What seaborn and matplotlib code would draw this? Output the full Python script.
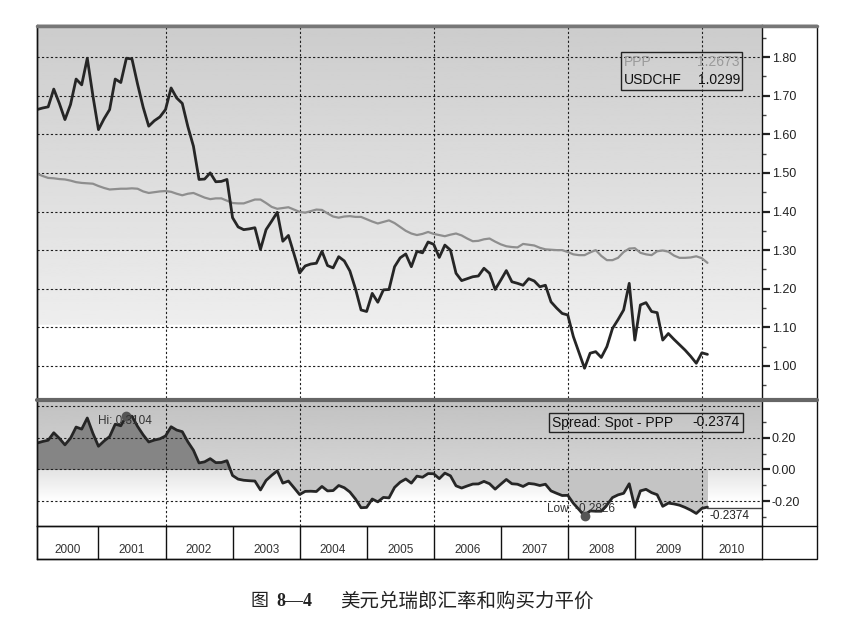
import numpy as np
import pandas as pd
import matplotlib
matplotlib.use("Agg")
import matplotlib.pyplot as plt
from matplotlib.patches import Rectangle
from matplotlib.lines import Line2D
import seaborn as sns

# ==== Data: monthly, Feb 2000 .. Feb 2010 ====
usdchf = [
    1.664, 1.668, 1.671, 1.717, 1.680, 1.638, 1.677, 1.743, 1.728, 1.797,
    1.700, 1.612, 1.640, 1.664, 1.743, 1.734, 1.797, 1.795, 1.730, 1.670,
    1.621, 1.635, 1.645, 1.664, 1.720, 1.694, 1.680, 1.620, 1.569, 1.483,
    1.484, 1.500, 1.477, 1.478, 1.483, 1.384, 1.360, 1.353, 1.355, 1.358,
    1.302, 1.353, 1.375, 1.398, 1.323, 1.338, 1.290, 1.241, 1.259, 1.264,
    1.266, 1.297, 1.260, 1.254, 1.283, 1.272, 1.246, 1.200, 1.145, 1.141,
    1.188, 1.165, 1.197, 1.198, 1.257, 1.280, 1.290, 1.257, 1.297, 1.293,
    1.321, 1.315, 1.281, 1.313, 1.300, 1.240, 1.221, 1.226, 1.231, 1.233,
    1.253, 1.240, 1.198, 1.222, 1.247, 1.218, 1.214, 1.209, 1.226, 1.220,
    1.205, 1.209, 1.166, 1.150, 1.136, 1.132, 1.076, 1.035, 0.994, 1.033,
    1.037, 1.022, 1.050, 1.097, 1.120, 1.145, 1.214, 1.067, 1.158, 1.164,
    1.141, 1.138, 1.067, 1.084, 1.069, 1.055, 1.041, 1.025, 1.007, 1.034,
    1.030,
]
ppp = [
    1.498, 1.492, 1.487, 1.486, 1.484, 1.483, 1.480, 1.476, 1.474, 1.473,
    1.472, 1.466, 1.461, 1.457, 1.458, 1.459, 1.459, 1.460, 1.459, 1.452,
    1.448, 1.450, 1.452, 1.453, 1.451, 1.446, 1.442, 1.446, 1.448, 1.442,
    1.436, 1.432, 1.434, 1.434, 1.428, 1.422, 1.421, 1.421, 1.426, 1.431,
    1.431, 1.422, 1.412, 1.407, 1.409, 1.411, 1.405, 1.399, 1.397, 1.401,
    1.405, 1.404, 1.395, 1.387, 1.384, 1.387, 1.388, 1.386, 1.386, 1.380,
    1.374, 1.369, 1.373, 1.377, 1.370, 1.360, 1.350, 1.343, 1.339, 1.342,
    1.347, 1.342, 1.339, 1.336, 1.340, 1.343, 1.338, 1.330, 1.323, 1.324,
    1.328, 1.330, 1.322, 1.315, 1.310, 1.308, 1.307, 1.316, 1.314, 1.312,
    1.306, 1.302, 1.301, 1.300, 1.300, 1.295, 1.289, 1.287, 1.287, 1.294,
    1.300, 1.285, 1.274, 1.274, 1.280, 1.295, 1.304, 1.305, 1.293, 1.289,
    1.287, 1.297, 1.299, 1.296, 1.286, 1.280, 1.280, 1.281, 1.284, 1.279,
    1.267,
]
years = [2000, 2001, 2002, 2003, 2004, 2005, 2006, 2007, 2008, 2009, 2010]
top_ticks = [1.00, 1.10, 1.20, 1.30, 1.40, 1.50, 1.60, 1.70, 1.80]
spread_ticks = [-0.20, 0.00, 0.20]
spread_grid = [-0.20, 0.00, 0.20, 0.40]
legend_top = [("PPP", "1.2673"), ("USDCHF", "1.0299")]
legend_spread = ("Spread: Spot - PPP", "-0.2374")
hi_label = "Hi: 0.3104"
low_label = "Low: -0.2826"
last_label = "-0.2374"
caption_parts = ["图", "8—4", "美元兑瑞郎汇率和购买力平价"]

months = np.arange(len(usdchf))
df = pd.DataFrame({"t": 2000 + (months + 1) / 12, "USDCHF": usdchf, "PPP": ppp})
df["spread"] = df["USDCHF"] - df["PPP"]

# ==== Layout helpers (pixel coords of the 868x620 picture) ====
W, H = 868, 620
def box(x0, y0, x1, y1):
    return [x0 / W, 1 - y1 / H, (x1 - x0) / W, (y1 - y0) / H]
def fx(px):
    return px / W
def fy(py):
    return 1 - py / H

sns.set_style("white")
plt.rcParams["font.family"] = ["Liberation Sans", "DejaVu Sans"]

fig = plt.figure(figsize=(8.68, 6.2), dpi=100)
ax1 = fig.add_axes(box(37, 25, 762, 398))
ax2 = fig.add_axes(box(37, 401, 762, 526))
ax3 = fig.add_axes(box(37, 526, 762, 559))

xmin, xmax = 2000 + 1 / 12, 2010.897
grid_kw = dict(color="#1e1e1e", lw=0.8, ls=(0, (2, 2)), zorder=2)

# ==== Top panel: USDCHF vs PPP ====
y1lo, y1hi = 0.917, 1.883
gy = np.linspace(y1hi, y1lo, 300)
shade = 0.80 + (y1hi - gy) / (y1hi - 1.12) * 0.13
shade[gy < 1.105] = 1.0
ax1.imshow(np.clip(shade, 0, 1)[:, None], extent=[xmin, xmax, y1lo, y1hi],
           aspect="auto", cmap="gray", vmin=0, vmax=1, zorder=0)
for v in top_ticks:
    ax1.axhline(v, **grid_kw)
for yr in years[2::2]:
    ax1.axvline(yr, **grid_kw)
sns.lineplot(data=df, x="t", y="PPP", ax=ax1, color="#8e8e8e", lw=1.6, zorder=3)
sns.lineplot(data=df, x="t", y="USDCHF", ax=ax1, color="#262626", lw=2.0, zorder=4)
ax1.set_xlim(xmin, xmax)
ax1.set_ylim(y1lo, y1hi)
ax1.set_xticks([])
ax1.set_xlabel("")
ax1.set_ylabel("")
ax1.yaxis.tick_right()
ax1.set_yticks(top_ticks)
ax1.set_yticklabels([f"{v:.2f}" for v in top_ticks])
ax1.set_yticks(np.arange(0.95, 1.9, 0.10), minor=True)

# ==== Bottom panel: spread ====
y2lo, y2hi = -0.356, 0.431
gy2 = np.linspace(y2hi, y2lo, 300)
shade2 = np.where(gy2 >= 0, 0.76 + (y2hi - gy2) / y2hi * 0.07,
                  0.89 + (-gy2) / 0.2 * 0.11)
ax2.imshow(np.clip(shade2, 0, 1)[:, None], extent=[xmin, xmax, y2lo, y2hi],
           aspect="auto", cmap="gray", vmin=0, vmax=1, zorder=0)
for v in spread_grid:
    ax2.axhline(v, **grid_kw)
for yr in years[2::2]:
    ax2.axvline(yr, **grid_kw)
ax2.fill_between(df["t"], 0, df["spread"], where=df["spread"] >= 0,
                 interpolate=True, color="#858585", lw=0, zorder=1)
ax2.fill_between(df["t"], 0, df["spread"], where=df["spread"] <= 0,
                 interpolate=True, color="#c4c4c4", lw=0, zorder=1)
sns.lineplot(data=df, x="t", y="spread", ax=ax2, color="#262626", lw=2.0, zorder=4)
hi = df.loc[df["spread"].idxmax()]
lo = df.loc[df["spread"].idxmin()]
ax2.scatter([hi["t"], lo["t"]], [hi["spread"], lo["spread"]], s=36,
            color="#555555", zorder=5)
ax2.text(2001.0, 0.305, hi_label, fontsize=8.5, color="#333333",
         va="center", ha="left", zorder=6)
ax2.text(2007.69, -0.25, low_label, fontsize=8.5, color="#333333",
         va="center", ha="left", zorder=6)
ax2.text(2010.12, -0.292, last_label, fontsize=8.5, color="#222222",
         va="center", ha="left", zorder=6)
ax2.plot([2010.07, xmax], [-0.245, -0.245], color="#444444", lw=1, zorder=6)
ax2.set_xlim(xmin, xmax)
ax2.set_ylim(y2lo, y2hi)
ax2.set_xticks([])
ax2.set_xlabel("")
ax2.set_ylabel("")
ax2.yaxis.tick_right()
ax2.set_yticks(spread_ticks)
ax2.set_yticklabels([f"{v:.2f}" for v in spread_ticks])
ax2.set_yticks([-0.3, -0.1, 0.1, 0.3], minor=True)

for ax in (ax1, ax2):
    ax.tick_params(axis="y", which="major", direction="out", length=6,
                   width=1.6, pad=1, labelsize=9, colors="#222222")
    ax.tick_params(axis="y", which="minor", direction="out", length=3,
                   width=1.0, colors="#444444")
    for s in ax.spines.values():
        s.set_color("#111111")
        s.set_linewidth(1.0)
    ax.spines["top"].set_visible(False)
    ax.spines["bottom"].set_visible(False)

# ==== Year strip ====
ax3.set_xlim(xmin, xmax)
ax3.set_ylim(0, 1)
for yr in years[1:]:
    ax3.axvline(yr, color="#111111", lw=1.0)
for yr in years:
    lo_x = max(yr, xmin)
    hi_x = min(yr + 1, xmax)
    ax3.text((lo_x + hi_x) / 2, 0.27, str(yr), ha="center", va="center",
             fontsize=8.5, color="#333333")
ax3.set_xticks([])
ax3.set_yticks([])
for s in ax3.spines.values():
    s.set_color("#111111")
    s.set_linewidth(1.0)

# ==== Frames and separators ====
fig.add_artist(Rectangle((fx(37), fy(559)), fx(817) - fx(37), fy(25) - fy(559),
                         transform=fig.transFigure, fill=False, ec="#111111", lw=1.0))
fig.add_artist(Line2D([fx(37), fx(817)], [fy(25.5), fy(25.5)],
                      transform=fig.transFigure, color="#777777", lw=2.5))
fig.add_artist(Line2D([fx(37), fx(817)], [fy(399.5), fy(399.5)],
                      transform=fig.transFigure, color="#666666", lw=3.0))
fig.add_artist(Line2D([fx(37), fx(817)], [fy(526), fy(526)],
                      transform=fig.transFigure, color="#111111", lw=1.0))

# ==== Legend boxes ====
fig.add_artist(Rectangle((fx(621), fy(90)), fx(742) - fx(621), fy(52) - fy(90),
                         transform=fig.transFigure, fill=False, ec="#222222", lw=1.0))
for (name, val), py, col in zip(legend_top, [62, 80], ["#9a9a9a", "#111111"]):
    fig.text(fx(624), fy(py), name, fontsize=10, color=col, va="center", ha="left")
    fig.text(fx(740), fy(py), val, fontsize=10, color=col, va="center", ha="right")

fig.add_artist(Rectangle((fx(549), fy(432)), fx(743) - fx(549), fy(413) - fy(432),
                         transform=fig.transFigure, fill=False, ec="#222222", lw=1.0))
fig.text(fx(552), fy(422.5), legend_spread[0], fontsize=10, color="#111111",
         va="center", ha="left")
fig.text(fx(740), fy(422.5), legend_spread[1], fontsize=10, color="#111111",
         va="center", ha="right")

# ==== Caption ====
fig.text(fx(251), fy(601), caption_parts[0], fontsize=13, color="#222222",
         va="center", ha="left", family=["Noto Sans CJK SC", "DejaVu Sans"])
fig.text(fx(276), fy(601), caption_parts[1], fontsize=13, color="#222222",
         va="center", ha="left", fontweight="bold",
         family=["Liberation Serif", "Noto Sans CJK SC"])
fig.text(fx(340), fy(601), caption_parts[2], fontsize=14, color="#222222",
         va="center", ha="left", family=["Noto Sans CJK SC", "DejaVu Sans"])

fig.savefig("out.png", dpi=100)
